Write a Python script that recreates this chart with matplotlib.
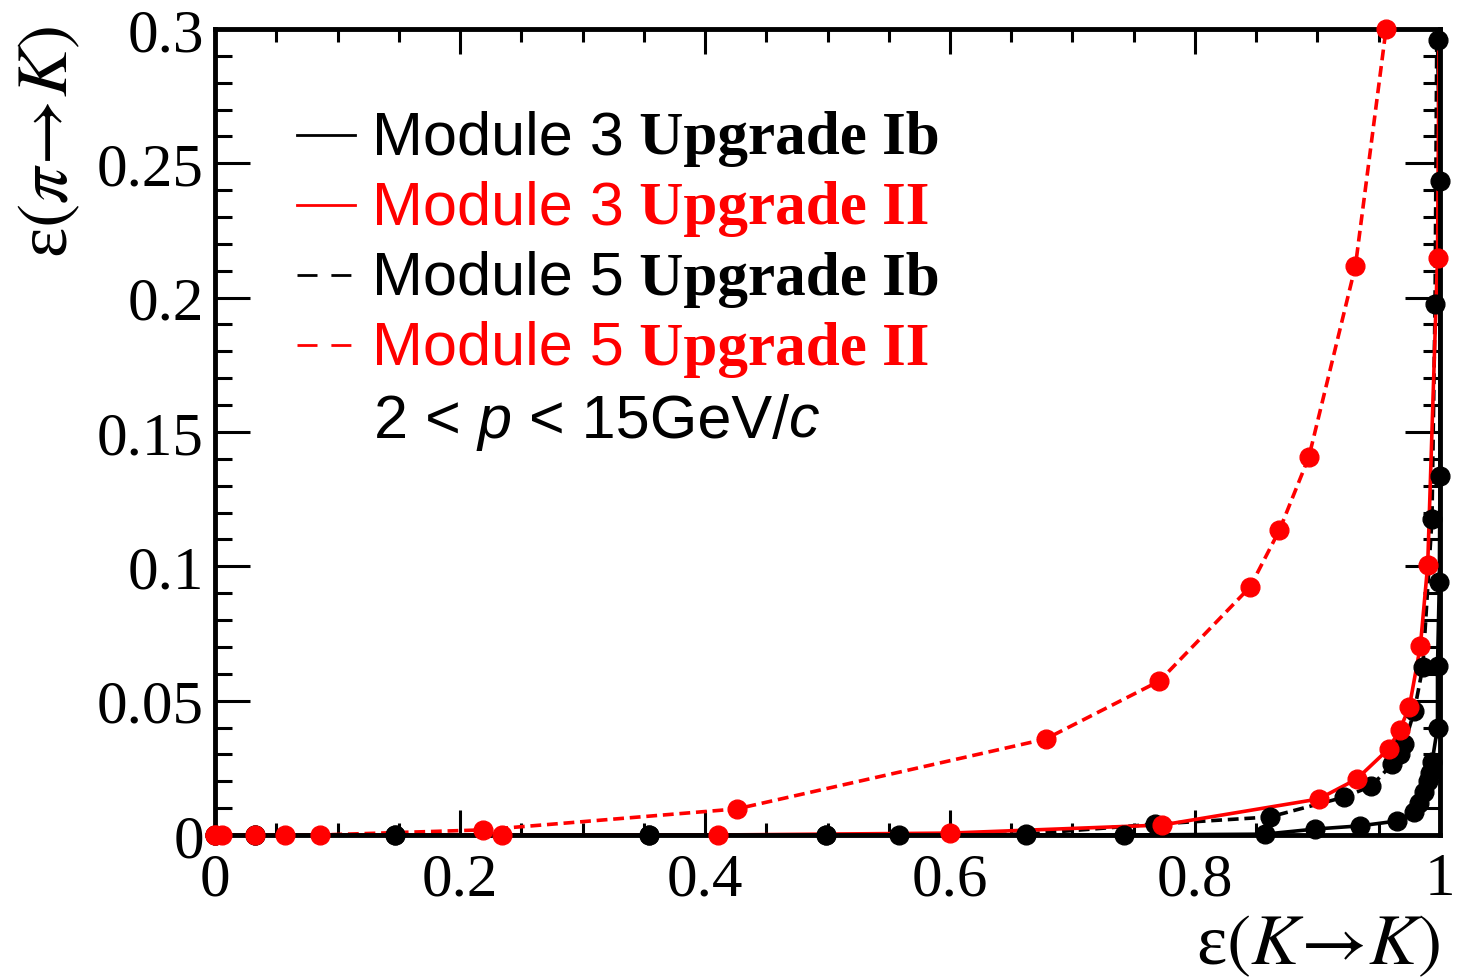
import matplotlib
matplotlib.use('Agg')
import matplotlib.pyplot as plt
from matplotlib.ticker import MultipleLocator, FuncFormatter
import numpy as np

plt.rcParams['mathtext.fontset'] = 'stix'

# Module 3, Upgrade Ib (black solid)
m3_ib_x = [0.0, 0.033, 0.147, 0.354, 0.499, 0.558, 0.662, 0.742, 0.857, 0.898, 0.935,
           0.965, 0.979, 0.983, 0.987, 0.990, 0.992, 0.9935, 0.998, 0.998, 0.9995,
           1.0, 1.0, 0.998]
m3_ib_y = [0.0, 0.0, 0.0, 0.0, 0.0, 0.0, 0.0, 0.0, 0.0003, 0.0022, 0.0034,
           0.0052, 0.0086, 0.012, 0.016, 0.020, 0.023, 0.027, 0.040, 0.063, 0.094,
           0.1336, 0.2434, 0.296]

# Module 5, Upgrade Ib (black dashed)
m5_ib_x = [0.0, 0.033, 0.147, 0.354, 0.499, 0.662, 0.767, 0.861, 0.922, 0.944, 0.961,
           0.967, 0.971, 0.979, 0.986, 0.9935, 0.996, 0.998]
m5_ib_y = [0.0, 0.0, 0.0, 0.0, 0.0, 0.0003, 0.004, 0.0067, 0.0141, 0.0182, 0.0264,
           0.030, 0.034, 0.046, 0.0625, 0.1176, 0.1977, 0.34]

# Module 3, Upgrade II (red solid)
m3_ii_x = [0.0, 0.033, 0.057, 0.234, 0.411, 0.600, 0.773, 0.901, 0.932, 0.958,
           0.967, 0.975, 0.984, 0.990, 0.998, 1.0]
m3_ii_y = [0.0, 0.0, 0.0, 0.0, 0.0, 0.0007, 0.0037, 0.0134, 0.0208, 0.032,
           0.039, 0.0476, 0.0703, 0.1005, 0.2148, 0.34]

# Module 5, Upgrade II (red dashed)
m5_ii_x = [0.0, 0.006, 0.086, 0.219, 0.426, 0.678, 0.771, 0.845, 0.869, 0.893,
           0.931, 0.956]
m5_ii_y = [0.0, 0.0, 0.0, 0.0019, 0.0097, 0.0357, 0.0573, 0.0923, 0.1135, 0.1407,
           0.2118, 0.300]

series = [
    (m3_ib_x, m3_ib_y, 'black', '-'),
    (m5_ib_x, m5_ib_y, 'black', '--'),
    (m5_ii_x, m5_ii_y, '#ff0000', '--'),
    (m3_ii_x, m3_ii_y, '#ff0000', '-'),
]
legend_rows = [
    ('Module 3', 'Upgrade Ib', 'black', '-'),
    ('Module 3', 'Upgrade II', '#ff0000', '-'),
    ('Module 5', 'Upgrade Ib', 'black', '--'),
    ('Module 5', 'Upgrade II', '#ff0000', '--'),
]

fig = plt.figure(figsize=(14.79, 9.79), dpi=100)
ax = fig.add_axes([0.1454, 0.1461, 0.8282, 0.8233])

for x, y, c, ls in series:
    x = np.array(x)
    y = np.array(y)
    line, = ax.plot(x, y, color=c, lw=2.6, ls=ls)
    if ls == '--':
        line.set_dashes((3, 1.6))
    ok = y <= 0.3
    ax.plot(x[ok], y[ok], 'o', color=c, ms=13.5, clip_on=False, zorder=5)

ax.set_xlim(0, 1)
ax.set_ylim(0, 0.3)
ax.xaxis.set_major_locator(MultipleLocator(0.2))
ax.xaxis.set_minor_locator(MultipleLocator(0.05))
ax.yaxis.set_major_locator(MultipleLocator(0.05))
ax.yaxis.set_minor_locator(MultipleLocator(0.01))
fmt = FuncFormatter(lambda v, p: '%g' % round(v, 4))
ax.xaxis.set_major_formatter(fmt)
ax.yaxis.set_major_formatter(fmt)

ax.tick_params(which='both', direction='in', top=True, right=True, width=2.2,
               labelsize=44, labelfontfamily='Liberation Serif')
ax.tick_params(axis='x', which='major', length=18, pad=12)
ax.tick_params(axis='x', which='minor', length=9)
ax.tick_params(axis='y', which='major', length=25, pad=8)
ax.tick_params(axis='y', which='minor', length=12.5)
for s in ax.spines.values():
    s.set_linewidth(3.5)

# axis titles
fig.text(1440 / 1479, 1 - 947 / 979, r'ε$(K\!\rightarrow\!K)$', ha='right', va='center',
         fontsize=52, family='Liberation Serif')
fig.text(50 / 1479, 1 - 26 / 979, r'ε$(\pi\!\rightarrow\!K)$', ha='center', va='top',
         rotation=90, fontsize=52, family='Liberation Serif')

# legend
row_y = [0.865, 0.778, 0.691, 0.604]
for (mod, upg, c, ls), yy in zip(legend_rows, row_y):
    ln, = ax.plot([0.067, 0.114], [yy + 0.004, yy + 0.004], color=c, lw=2,
                  ls=ls, transform=ax.transAxes)
    if ls == '--':
        ln.set_dashes((7.2, 5))
    t = ax.text(0.128, yy, mod, transform=ax.transAxes, color=c, fontsize=44,
                family='Liberation Sans', va='center')
    ax.annotate(' ' + upg, xycoords=t, xy=(1, 0), va='bottom', color=c, fontsize=44,
                family='Liberation Serif', weight='bold')

t = ax.text(0.130, 0.513, '2 <', transform=ax.transAxes, fontsize=44,
            family='Liberation Sans', va='center')
for s, style in [(' p', 'italic'), (' < 15GeV/', 'normal'), ('c', 'italic')]:
    t = ax.annotate(s, xycoords=t, xy=(1, 0), va='bottom', fontsize=44,
                    family='Liberation Sans', style=style)

plt.savefig('out.png', dpi=100)
